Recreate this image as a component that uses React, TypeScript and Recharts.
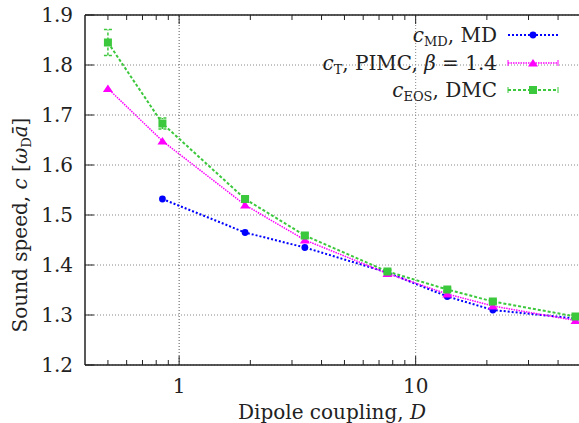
import { LineChart, Line, XAxis, YAxis, CartesianGrid, ReferenceLine, ErrorBar } from 'recharts';

// Dipole coupling D (x) and sound speed values
const coupling = [0.5, 0.85, 1.9, 3.4, 7.6, 13.6, 21.2, 47.4];
const cMD = [null, 1.532, 1.465, 1.435, 1.385, 1.337, 1.31, 1.293];
const cT = [1.753, 1.648, 1.52, 1.45, 1.383, 1.342, 1.318, 1.289];
const cEOS = [1.845, 1.683, 1.532, 1.459, 1.387, 1.351, 1.327, 1.297];
const cEOSErr = [0.026, 0.011, 0.004, 0.004, 0.003, 0.003, 0.003, 0.003];

const xTicks = [0.5, 0.6, 0.7, 0.8, 0.9, 1, 2, 3, 4, 5, 6, 7, 8, 9, 10, 20, 30, 40, 50];
const yTicks = [1.2, 1.3, 1.4, 1.5, 1.6, 1.7, 1.8, 1.9];

const data = coupling.map((d, i) => ({
  D: d,
  md: cMD[i],
  pimc: cT[i],
  dmc: cEOS[i],
  dmcErr: cEOSErr[i],
}));

const FONT = 'DejaVu Serif';
const FS = 20;
const INK = '#222';
const BLUE = '#0000ff';
const PINK = '#ff00ff';
const GREEN = '#3cc83c';
const PLOT_H = 350;

const XTick = (props: any) => {
  const { x, y, payload } = props;
  const v = payload.value;
  const major = v === 1 || v === 10;
  const len = major ? 9 : 5;
  return (
    <g>
      <line x1={x} x2={x} y1={y} y2={y - len} stroke={INK} />
      <line x1={x} x2={x} y1={y - PLOT_H} y2={y - PLOT_H + len} stroke={INK} />
      {major && (
        <text x={x} y={y + 28} textAnchor="middle" fontFamily={FONT} fontSize={FS} fill={INK}>
          {v}
        </text>
      )}
    </g>
  );
};

const YTick = (props: any) => {
  const { x, y, payload } = props;
  return (
    <g>
      <line x1={x + 12} x2={x + 21} y1={y} y2={y} stroke={INK} />
      <text x={x} y={y + 7} textAnchor="end" fontFamily={FONT} fontSize={FS} fill={INK}>
        {payload.value.toFixed(1)}
      </text>
    </g>
  );
};

const Circle = (props: any) => {
  const { cx, cy, payload } = props;
  if (payload.md == null) return null;
  return <circle cx={cx} cy={cy} r={3.4} fill={BLUE} />;
};

const Triangle = (props: any) => {
  const { cx, cy } = props;
  return <polygon points={`${cx - 5},${cy + 3.5} ${cx + 5},${cy + 3.5} ${cx},${cy - 4}`} fill={PINK} />;
};

const Square = (props: any) => {
  const { cx, cy } = props;
  return <rect x={cx - 4} y={cy - 4} width={8} height={8} fill={GREEN} />;
};

const LegendRow = ({ y, color, dash, width, marker, caps, children }: any) => (
  <g>
    <text x={497} y={y + 7} textAnchor="end" fontFamily={FONT} fontSize={FS} fill={INK}>
      {children}
    </text>
    <line x1={508} x2={558} y1={y} y2={y} stroke={color} strokeDasharray={dash} strokeWidth={width} />
    {caps && (
      <>
        <line x1={508} x2={508} y1={y - 3} y2={y + 3} stroke={color} />
        <line x1={558} x2={558} y1={y - 3} y2={y + 3} stroke={color} />
      </>
    )}
    {marker}
  </g>
);

const App = () => {
  return (
    <div style={{ position: 'absolute', left: 0, top: 0, width: 579, height: 423, overflow: 'hidden', background: '#fff' }}>
      <LineChart width={600} height={423} data={data} margin={{ top: 15, right: 19, bottom: 0, left: 0 }}>
        <CartesianGrid vertical={false} stroke="#888" strokeDasharray="1 2" />
        <XAxis
          dataKey="D"
          type="number"
          scale="log"
          domain={[0.4, 50]}
          allowDataOverflow
          ticks={xTicks}
          interval={0}
          height={58}
          tickSize={0}
          tickMargin={0}
          tick={<XTick />}
          axisLine={{ stroke: INK, strokeWidth: 1.5 }}
        />
        <YAxis
          type="number"
          domain={[1.2, 1.9]}
          ticks={yTicks}
          interval={0}
          width={85}
          tickSize={0}
          tickMargin={12}
          tick={<YTick />}
          axisLine={{ stroke: INK, strokeWidth: 1.5 }}
        />
        <ReferenceLine x={1} stroke="#555" strokeDasharray="1 2" />
        <ReferenceLine x={10} stroke="#888" strokeDasharray="1 2" />
        <ReferenceLine y={1.9} stroke={INK} strokeWidth={1.5} />
        <ReferenceLine x={50} stroke={INK} strokeWidth={1.5} />
        <Line
          dataKey="md"
          stroke={BLUE}
          strokeWidth={2}
          strokeDasharray="2 2"
          dot={<Circle />}
          activeDot={false}
          isAnimationActive={false}
        />
        <Line
          dataKey="pimc"
          stroke={PINK}
          strokeWidth={1.5}
          strokeDasharray="1.5 1"
          dot={<Triangle />}
          activeDot={false}
          isAnimationActive={false}
        />
        <Line
          dataKey="dmc"
          stroke={GREEN}
          strokeWidth={2}
          strokeDasharray="3 2"
          dot={<Square />}
          activeDot={false}
          isAnimationActive={false}
        >
          <ErrorBar dataKey="dmcErr" direction="y" width={4} stroke={GREEN} strokeWidth={1.5} strokeDasharray="3 2" />
        </Line>
      </LineChart>
      <svg width={579} height={423} style={{ position: 'absolute', left: 0, top: 0, pointerEvents: 'none' }}>
        <LegendRow y={35} color={BLUE} dash="2 2" width={2} marker={<circle cx={533} cy={35} r={3.4} fill={BLUE} />}>
          <tspan fontStyle="italic">c</tspan>
          <tspan fontSize={13} dy={4}>MD</tspan>
          <tspan dy={-4}>, MD</tspan>
        </LegendRow>
        <LegendRow
          y={63}
          color={PINK}
          dash="1.5 1"
          width={1.5}
          caps
          marker={<polygon points="528,66.5 538,66.5 533,59" fill={PINK} />}
        >
          <tspan fontStyle="italic">c</tspan>
          <tspan fontSize={13} dy={4}>T</tspan>
          <tspan dy={-4}>, PIMC, </tspan>
          <tspan fontStyle="italic">β</tspan>
          <tspan> = 1.4</tspan>
        </LegendRow>
        <LegendRow
          y={90}
          color={GREEN}
          dash="3 2"
          width={2}
          caps
          marker={<rect x={529} y={86} width={8} height={8} fill={GREEN} />}
        >
          <tspan fontStyle="italic">c</tspan>
          <tspan fontSize={13} dy={4}>EOS</tspan>
          <tspan dy={-4}>, DMC</tspan>
        </LegendRow>
        <text x={332} y={419} textAnchor="middle" fontFamily={FONT} fontSize={FS} fill={INK}>
          Dipole coupling, <tspan fontStyle="italic">D</tspan>
        </text>
        <text
          transform="translate(27,225) rotate(-90)"
          textAnchor="middle"
          fontFamily={FONT}
          fontSize={FS}
          fill={INK}
        >
          Sound speed, <tspan fontStyle="italic">c</tspan> [<tspan fontStyle="italic">ω</tspan>
          <tspan fontSize={13} dy={4}>D</tspan>
          <tspan dy={-4} fontStyle="italic">ā</tspan>]
        </text>
      </svg>
    </div>
  );
};

export default App;
